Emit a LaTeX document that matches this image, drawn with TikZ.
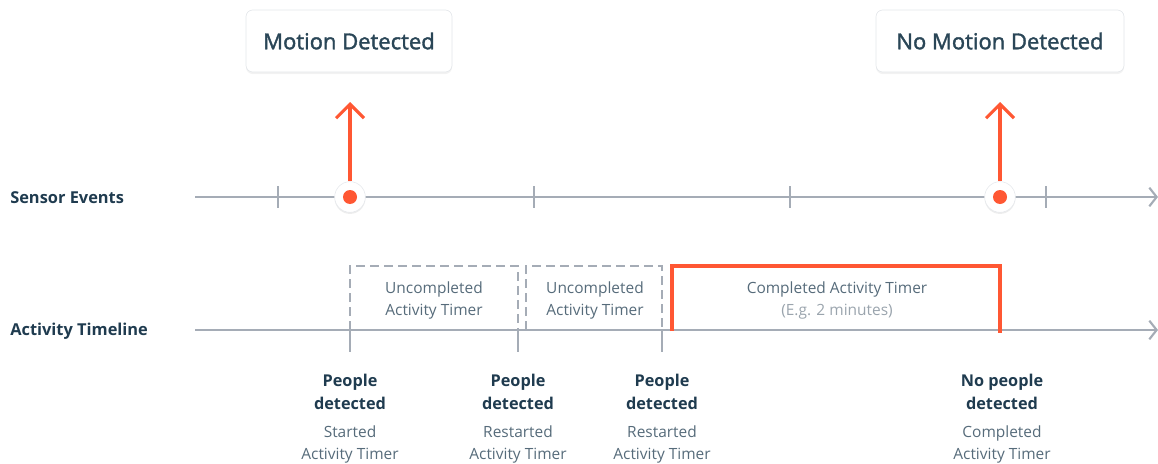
\documentclass[tikz,border=0pt]{standalone}
\usepackage{fontspec}
\setmainfont{Open Sans}
\newfontfamily\cardfont[FakeBold=1.6]{Open Sans}
\usetikzlibrary{arrows.meta,shadows}
\definecolor{ink}{HTML}{1F3B4F}
\definecolor{cardink}{HTML}{2A4657}
\definecolor{sub}{HTML}{566B7A}
\definecolor{light}{HTML}{9AA4AD}
\definecolor{axis}{HTML}{A5ACB6}
\definecolor{hot}{HTML}{FF5733}
\definecolor{cardline}{HTML}{E4E7EB}
\begin{document}
\begin{tikzpicture}[x=0.75pt,y=-0.75pt,
  axisline/.style={draw=axis,line width=2pt,-{Straight Barb[length=5.5pt,width=14pt,line width=1.6pt]}},
  tickmark/.style={draw=axis,line width=1.6pt},
  event/.style={draw=hot,line width=2.3pt,-{Straight Barb[length=10.5pt,width=21pt,line width=2.3pt]}},
  card/.style={draw=cardline,line width=0.5pt,fill=white,rounded corners=5pt,minimum height=46.5pt,
    text=cardink,font=\cardfont\fontsize{16.5}{20}\selectfont,
    drop shadow={opacity=0.10,shadow xshift=0pt,shadow yshift=-1.5pt}},
  halo/.style={circle,fill=white,draw=cardline,line width=0.4pt,minimum size=23pt,inner sep=0pt,
    drop shadow={opacity=0.14,shadow xshift=0pt,shadow yshift=-1.2pt}},
  dot/.style={circle,fill=hot,minimum size=10.5pt,inner sep=0pt},
  rowlabel/.style={anchor=west,text=ink,font=\bfseries\fontsize{12.3}{15}\selectfont,inner sep=0pt},
  pending/.style={draw=axis,line width=1.8pt,dash pattern=on 6.5pt off 4pt},
  done/.style={draw=hot,line width=2.3pt},
  boxtext/.style={align=center,text=sub,font=\fontsize{11.6}{16.5}\selectfont},
  head/.style={align=center,text=ink,font=\bfseries\fontsize{12.2}{17.25}\selectfont,inner sep=0pt,anchor=north},
  note/.style={align=center,text=sub,font=\fontsize{11.6}{16.5}\selectfont,inner sep=0pt,anchor=north}
]
\useasboundingbox (0,0) rectangle (1158,464);

% row labels
\node[rowlabel] (lsensor) at (10,198) {Sensor Events};
\node[rowlabel] (lactivity) at (10,331.5) {Activity Timeline};

% axes
\coordinate (s0) at (195,197); \coordinate (s1) at (1158,197);
\coordinate (a0) at (195,330); \coordinate (a1) at (1158,330);
\draw[axisline] (s0) -- (s1);
\draw[axisline] (a0) -- (a1);

% sensor ticks
\foreach \x in {278,534,790,1046}
  \draw[tickmark] (\x,186) -- (\x,208);

% activity ticks
\foreach \x in {350,518,662}
  \draw[tickmark] (\x,330) -- (\x,352);

% dashed timers
\draw[pending] (350,330) -- (350,266) -- (518,266) -- (518,330);
\draw[pending] (526,330) -- (526,266) -- (662,266) -- (662,330);
\node[boxtext] (u1) at (434,300) {Uncompleted\\Activity Timer};
\node[boxtext] (u2) at (595,300) {Uncompleted\\Activity Timer};

% completed timer
\draw[done] (672,331) -- (672,266) -- (1000,266) -- (1000,333);
\node[boxtext] (c1) at (837,300) {Completed Activity Timer\\\textcolor{light}{(E.g. 2 minutes)}};

% event cards
\node[card,minimum width=154.5pt] (m1) at (349,41) {Motion Detected};
\node[card,minimum width=186pt] (m2) at (1000,41) {No Motion Detected};

% event dots and arrows
\node[halo] (h1) at (350,197) {};
\node[halo] (h2) at (1000,197) {};
\coordinate (t1) at (350,102);
\coordinate (t2) at (1000,102);
\draw[event] (h1.north) -- (t1);
\draw[event] (h2.north) -- (t2);
\node[dot] (d1) at (h1) {};
\node[dot] (d2) at (h2) {};

% bottom labels
\node[head] (p1) at (350,374) {People\\detected};
\node[note] (n1) at (350,425) {Started\\Activity Timer};
\node[head] (p2) at (518,374) {People\\detected};
\node[note] (n2) at (518,425) {Restarted\\Activity Timer};
\node[head] (p3) at (662,374) {People\\detected};
\node[note] (n3) at (662,425) {Restarted\\Activity Timer};
\node[head] (p4) at (1002,374) {No people\\detected};
\node[note] (n4) at (1002,425) {Completed\\Activity Timer};
\end{tikzpicture}
\end{document}
